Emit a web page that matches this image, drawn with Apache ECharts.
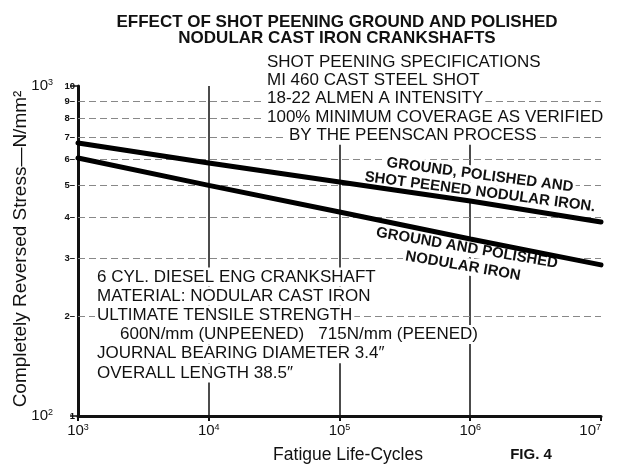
<!DOCTYPE html>
<html>
<head>
<meta charset="utf-8">
<script src="https://cdn.jsdelivr.net/npm/echarts@6/dist/echarts.min.js"></script>
<style>
  html, body { margin: 0; padding: 0; background: #fff; }
  #chart { width: 619px; height: 467px; }
</style>
</head>
<body>
<div id="chart"></div>
<script>
// fatigue life (cycles) at each decade, stress in N/mm^2
const cycles = [1e3, 1e4, 1e5, 1e6, 1e7];
const peened = [672, 584, 512, 448, 387];
const unpeened = [605, 500, 415, 344, 287];
const gridStress = [200, 300, 400, 500, 600, 700, 800, 900];

const titleLines = ["EFFECT OF SHOT PEENING GROUND AND POLISHED", "NODULAR CAST IRON CRANKSHAFTS"];
const specLines = [
  "SHOT PEENING SPECIFICATIONS",
  "MI 460 CAST STEEL SHOT",
  "18-22 ALMEN A INTENSITY",
  "100% MINIMUM COVERAGE AS VERIFIED",
  "BY THE PEENSCAN PROCESS"
];
const noteLines = [
  "6 CYL. DIESEL ENG CRANKSHAFT",
  "MATERIAL: NODULAR CAST IRON",
  "ULTIMATE TENSILE STRENGTH",
  "600N/mm (UNPEENED)   715N/mm (PEENED)",
  "JOURNAL BEARING DIAMETER 3.4\u2033",
  "OVERALL LENGTH 38.5\u2033"
];

const FONT = '"Liberation Sans", Arial, sans-serif';

function txt(text, x, y, opt) {
  opt = opt || {};
  return {
    type: 'text',
    x: x, y: y,
    rotation: opt.rotation || 0,
    z: 3,
    silent: true,
    style: {
      text: text,
      fill: '#111',
      fontFamily: FONT,
      fontSize: opt.size || 17,
      fontWeight: opt.weight || 'normal',
      align: opt.align || 'left',
      verticalAlign: 'middle',
      backgroundColor: opt.bg === false ? 'transparent' : '#fff',
      padding: [1, 2]
    }
  };
}

const graphics = [];
titleLines.forEach((t, i) => graphics.push(txt(t, 337, 22 + i * 16.5, { weight: 'bold', align: 'center', bg: false })));
specLines.forEach((t, i) => graphics.push(txt(t, i === 4 ? 287 : 265, 62 + i * 18.3)));
noteLines.forEach((t, i) => graphics.push(txt(t, i === 3 ? 118 : 95, 277 + i * 19.2)));

// curve labels, tilted along the lines (lines are drawn above them)
const ang1 = -7.5 * Math.PI / 180;
const ang2 = -9.8 * Math.PI / 180;
graphics.push(txt("GROUND, POLISHED AND", 480, 175, { size: 15, weight: 'bold', align: 'center', rotation: ang1 }));
graphics.push(txt("SHOT PEENED NODULAR IRON.", 480, 192, { size: 15, weight: 'bold', align: 'center', rotation: ang1 }));
graphics.push(txt("GROUND AND POLISHED", 467, 248, { size: 15, weight: 'bold', align: 'center', rotation: ang2 }));
graphics.push(txt("NODULAR IRON", 463, 266, { size: 15, weight: 'bold', align: 'center', rotation: ang2 }));

graphics.push(txt("Completely Reversed Stress\u2014N/mm\u00b2", 21, 249, { size: 19, align: 'center', rotation: Math.PI / 2, bg: false }));
graphics.push(txt("Fatigue Life-Cycles", 348, 455, { size: 17.5, align: 'center', bg: false }));
graphics.push(txt("FIG. 4", 531, 455, { size: 15, weight: 'bold', align: 'center', bg: false }));

const pow10 = v => '10{s|' + Math.round(Math.log10(v)) + '}';
const powRich = { s: { fontSize: 9, verticalAlign: 'top', fontFamily: FONT, color: '#111' } };

const chart = echarts.init(document.getElementById('chart'));
chart.setOption({
  animation: false,
  backgroundColor: '#fff',
  grid: { left: 78, right: 18, top: 86, bottom: 51 },
  xAxis: {
    type: 'log',
    logBase: 10,
    min: 1e3,
    max: 1e7,
    axisLine: { show: true, lineStyle: { color: '#111', width: 3 } },
    axisTick: { show: true, length: 5, lineStyle: { color: '#111', width: 2 } },
    splitLine: { show: true, showMinLine: false, showMaxLine: false, lineStyle: { color: '#111', width: 1.5, type: 'solid' } },
    axisLabel: {
      margin: 7,
      formatter: pow10,
      alignMaxLabel: 'right',
      color: '#111',
      fontFamily: FONT,
      fontSize: 15,
      lineHeight: 16,
      rich: powRich
    }
  },
  yAxis: [{
    type: 'log',
    logBase: 10,
    min: 100,
    max: 1000,
    axisLine: { show: true, lineStyle: { color: '#111', width: 3 } },
    axisTick: { show: true, length: 8, lineStyle: { color: '#111', width: 1.5 } },
    splitLine: { show: false },
    axisLabel: {
      margin: 3,
      formatter: v => String(v / 100),
      color: '#111',
      fontFamily: FONT,
      fontWeight: 'bold',
      fontSize: 9.5
    }
  }, {
    type: 'log',
    logBase: 10,
    min: 100,
    max: 1000,
    position: 'left',
    axisLine: { show: false },
    axisTick: { show: false },
    splitLine: { show: false },
    axisLabel: {
      margin: 25,
      formatter: pow10,
      color: '#111',
      fontFamily: FONT,
      fontSize: 15,
      lineHeight: 16,
      rich: powRich
    }
  }],
  graphic: graphics,
  series: [
    {
      type: 'line',
      name: 'grid',
      data: [],
      z: 1,
      markLine: {
        z: 1,
        silent: true,
        symbol: 'none',
        lineStyle: { color: '#888', width: 1.2, type: [7, 4] },
        label: {
          show: true,
          position: 'start',
          distance: 3,
          formatter: p => (p.value / 100) + '\u2013',
          color: '#111',
          fontFamily: FONT,
          fontWeight: 'bold',
          fontSize: 9.5
        },
        data: gridStress.map(v => ({ yAxis: v }))
      }
    },
    {
      type: 'line',
      name: 'Ground, polished and shot peened nodular iron',
      data: cycles.map((c, i) => [c, peened[i]]),
      symbol: 'none',
      z: 5,
      lineStyle: { color: '#000', width: 5, cap: 'round' }
    },
    {
      type: 'line',
      name: 'Ground and polished nodular iron',
      data: cycles.map((c, i) => [c, unpeened[i]]),
      symbol: 'none',
      z: 5,
      lineStyle: { color: '#000', width: 5, cap: 'round' }
    }
  ]
});
</script>
</body>
</html>
